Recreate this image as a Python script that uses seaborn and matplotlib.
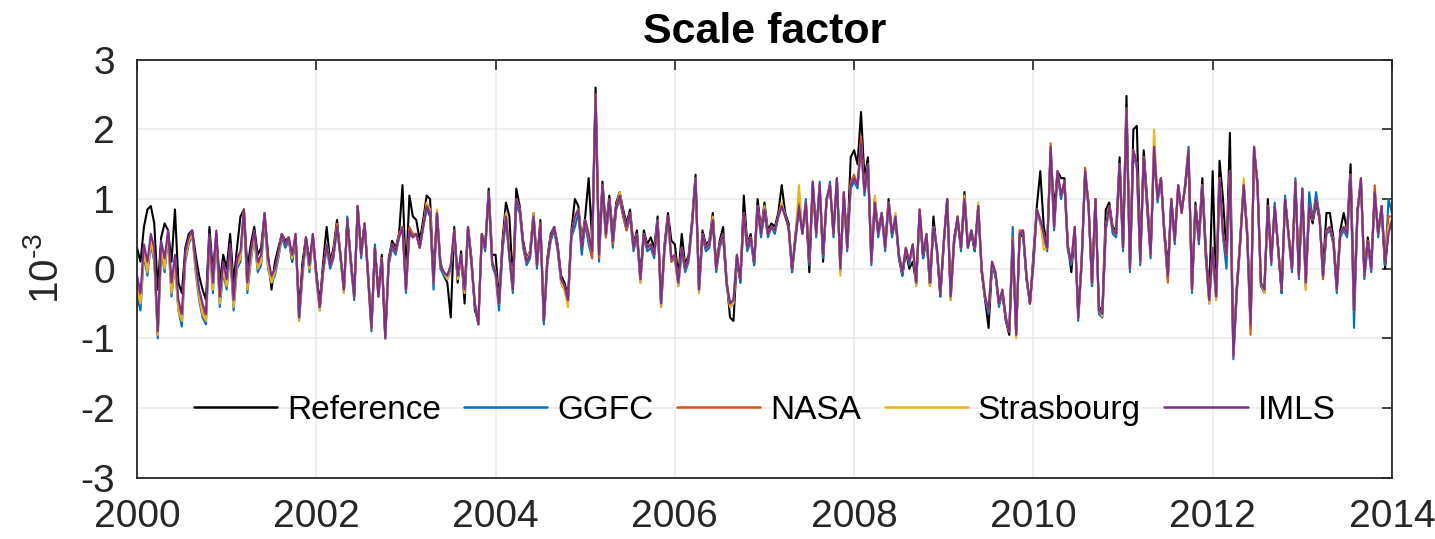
import numpy as np
import pandas as pd
import matplotlib
matplotlib.use("Agg")
import matplotlib.pyplot as plt
import seaborn as sns

# ---- data (units of 1e-3), biweekly samples 2000.0 .. 2014.0 ----
series_names = ["Reference", "GGFC", "NASA", "Strasbourg", "IMLS"]
series_colors = ["#000000", "#0072BD", "#D95319", "#EDB120", "#7E2F8E"]
x_ticks = [2000, 2002, 2004, 2006, 2008, 2010, 2012, 2014]
y_ticks = [-3, -2, -1, 0, 1, 2, 3]
start_year = 2000
samples_per_year = 26

reference = [
    0.3,0.1,0.6,0.85,0.9,0.65,-0.3,0.45,0.65,0.55,0.1,0.85,-0.2,-0.35,0.3,0.5,0.55,0.2,-0.1,-0.3,-0.45,0.6,-0.05,0.5,-0.2,0.2,
    0.0,0.5,-0.2,0.3,0.75,0.85,0.0,0.35,0.6,0.2,0.3,0.8,0.2,-0.3,0.1,0.3,0.5,0.4,0.45,0.1,0.45,-0.6,0.1,0.45,0.1,0.45,
    -0.05,-0.5,0.1,0.6,0.1,0.3,0.7,0.2,-0.3,0.72,0.15,-0.35,0.9,0.25,0.65,-0.05,-0.8,0.3,-0.35,0.2,-0.95,0.15,0.4,0.3,0.5,1.2,
    -0.1,1.05,0.75,0.7,0.4,0.7,1.05,1.0,-0.1,0.8,0.1,-0.1,-0.2,-0.7,0.6,-0.2,0.25,-0.5,0.6,0.15,-0.6,-0.75,0.5,0.35,1.15,0.2,
    0.2,-0.45,0.4,0.95,0.75,-0.2,1.15,0.9,0.4,0.15,0.25,0.8,0.1,0.7,-0.76,0.15,0.5,0.6,0.35,-0.1,-0.2,-0.4,0.55,1.0,0.9,0.4,
    0.75,1.3,0.4,2.6,0.3,1.25,0.6,1.05,0.5,0.95,1.1,0.85,0.65,0.85,0.35,0.55,-0.1,0.55,0.35,0.45,0.3,0.75,-0.45,0.35,0.8,0.4,
    0.35,-0.1,0.5,0.05,0.2,0.7,1.35,-0.25,0.55,0.35,0.4,0.8,0.05,0.4,0.6,-0.15,-0.7,-0.75,0.15,-0.2,1.05,0.35,0.5,0.05,1.0,0.55,
    0.95,0.55,0.65,0.6,0.8,1.2,0.8,0.65,-0.05,0.5,0.95,0.55,0.9,-0.05,1.2,0.55,1.15,0.1,1.0,1.15,0.55,1.25,0.05,1.05,0.35,1.6,
    1.7,1.5,2.25,1.3,1.6,0.15,1.0,0.55,0.8,0.35,1.0,0.5,0.7,0.15,-0.1,0.25,0.0,0.1,-0.2,0.8,0.15,0.45,-0.25,0.75,0.25,-0.4,
    0.35,1.0,-0.35,0.45,0.7,0.3,1.1,0.35,0.5,0.25,0.9,-0.05,-0.45,-0.85,0.05,-0.1,-0.45,-0.35,-0.75,-0.95,0.35,-0.9,0.45,0.5,-0.15,-0.5,
    0.2,0.9,1.4,0.6,0.35,1.7,0.85,1.4,1.3,1.3,0.35,-0.05,0.55,-0.65,0.15,1.35,0.95,-0.25,1.0,-0.55,-0.6,0.85,0.95,0.6,0.55,1.6,
    0.35,2.48,0.05,2.0,2.05,0.2,1.7,1.0,0.25,1.65,1.05,1.3,0.55,0.0,1.0,0.45,1.15,0.85,1.15,1.6,-0.25,0.95,0.45,1.3,0.3,-0.4,
    1.4,-0.35,1.55,1.0,0.2,1.95,-1.2,-0.25,0.45,1.2,0.55,-0.75,1.7,1.25,-0.25,-0.27,1.0,0.15,0.85,0.3,-0.35,1.0,0.5,0.05,1.2,-0.05,
    1.1,-0.15,0.85,0.65,0.95,0.7,0.0,0.8,0.8,0.45,-0.2,0.55,0.8,0.55,1.5,-0.45,0.85,1.25,-0.05,0.45,0.05,1.05,0.55,0.85,0.0,0.55,
    0.65]

ggfc = [
    -0.4,-0.6,0.2,-0.1,0.35,0.1,-1.0,0.25,-0.05,0.45,-0.4,0.05,-0.6,-0.83,0.1,0.35,0.5,-0.05,-0.45,-0.7,-0.8,0.4,-0.35,0.45,-0.55,-0.05,
    -0.3,0.25,-0.6,0.0,0.1,0.8,-0.35,0.1,0.45,-0.05,0.05,0.7,0.0,-0.2,-0.1,0.15,0.45,0.3,0.4,0.1,0.45,-0.75,-0.1,0.4,-0.05,0.45,
    -0.15,-0.6,-0.05,0.3,0.0,0.15,0.6,0.15,-0.35,0.75,0.05,-0.45,0.9,0.15,0.65,-0.15,-0.9,0.35,-0.4,0.1,-1.0,0.05,0.3,0.2,0.45,0.6,
    -0.35,0.5,0.45,0.5,0.3,0.6,0.85,0.75,-0.3,0.75,0.0,-0.1,-0.15,0.0,0.5,-0.15,0.15,-0.35,0.55,0.05,-0.55,-0.8,0.45,0.25,1.05,0.05,
    -0.1,-0.6,0.25,0.7,0.15,-0.35,0.9,0.8,0.3,0.05,0.15,0.7,0.0,0.6,-0.8,0.05,0.4,0.55,0.25,-0.2,-0.3,-0.5,0.45,0.6,0.8,0.2,
    0.65,0.35,0.15,2.45,0.1,1.1,0.45,0.95,0.3,0.85,1.0,0.75,0.55,0.75,0.25,0.45,-0.2,0.45,0.25,0.3,0.15,0.65,-0.55,0.25,0.7,0.1,
    0.15,-0.25,0.25,-0.05,0.1,0.6,1.3,-0.35,0.45,0.25,0.3,0.65,-0.05,0.3,0.45,-0.25,-0.55,-0.5,0.15,-0.2,0.75,0.25,0.4,0.05,0.85,0.45,
    0.8,0.45,0.6,0.5,0.75,0.9,0.8,0.55,-0.05,0.4,0.85,0.5,1.0,0.05,1.2,0.45,1.25,0.15,0.95,1.25,0.45,1.3,-0.05,1.05,0.25,1.15,
    1.25,1.15,1.75,1.05,1.45,0.05,0.9,0.45,0.75,0.25,0.9,0.45,0.7,0.15,-0.1,0.3,0.05,0.35,-0.25,0.85,0.15,0.45,-0.25,0.6,0.3,-0.4,
    0.35,1.0,-0.45,0.35,0.7,0.25,0.95,0.3,0.55,0.25,0.85,-0.05,-0.45,-0.65,0.05,-0.1,-0.55,-0.35,-0.75,-0.9,0.6,-0.95,0.5,0.5,-0.15,-0.5,
    0.05,0.85,0.65,0.45,0.25,1.7,0.55,1.35,1.0,1.2,0.25,0.05,0.55,-0.75,0.05,1.35,0.85,-0.25,1.0,-0.65,-0.7,0.55,0.85,0.5,0.45,1.45,
    0.25,2.25,-0.05,1.65,1.45,0.05,1.55,0.85,0.15,1.7,0.95,1.25,0.45,-0.15,0.95,0.35,1.2,0.8,1.2,1.75,-0.35,0.9,0.35,1.2,0.15,-0.5,
    0.25,-0.45,1.3,0.45,0.0,1.35,-1.3,-0.35,0.35,1.2,0.45,-0.85,1.75,1.15,-0.25,-0.35,0.9,0.05,0.95,0.25,-0.35,1.05,0.45,-0.05,1.3,-0.15,
    1.15,-0.25,1.1,0.7,1.1,0.75,-0.15,0.5,0.55,0.35,-0.35,0.45,0.55,0.45,1.3,-0.85,0.8,1.25,-0.15,0.35,-0.05,1.1,0.45,0.9,0.05,1.0,
    0.8]

nasa = [
    -0.25,-0.45,0.3,0.0,0.45,0.2,-0.95,0.35,0.05,0.5,-0.3,0.1,-0.55,-0.7,0.2,0.4,0.5,0.05,-0.35,-0.6,-0.7,0.45,-0.25,0.5,-0.45,0.05,
    -0.2,0.3,-0.5,0.1,0.2,0.85,-0.25,0.2,0.5,0.05,0.15,0.75,0.1,-0.15,0.0,0.2,0.5,0.35,0.45,0.15,0.5,-0.7,-0.05,0.45,0.0,0.5,
    -0.1,-0.55,0.0,0.35,0.05,0.25,0.65,0.2,-0.3,0.7,0.1,-0.4,0.85,0.2,0.65,-0.1,-0.85,0.3,-0.4,0.15,-1.0,0.1,0.35,0.25,0.5,0.6,
    -0.3,0.6,0.5,0.5,0.3,0.6,0.9,0.8,-0.2,0.8,0.05,-0.05,-0.1,0.05,0.55,-0.1,0.2,-0.3,0.6,0.1,-0.5,-0.8,0.5,0.3,1.1,0.1,
    -0.05,-0.5,0.3,0.8,0.2,-0.3,1.0,0.85,0.35,0.1,0.2,0.75,0.05,0.65,-0.75,0.1,0.45,0.6,0.3,-0.15,-0.25,-0.45,0.5,0.75,0.85,0.3,
    0.7,0.45,0.15,2.5,0.15,1.2,0.45,1.0,0.35,0.9,1.0,0.75,0.55,0.8,0.3,0.5,-0.15,0.5,0.3,0.35,0.2,0.7,-0.5,0.3,0.75,0.1,
    0.2,-0.2,0.3,0.0,0.15,0.65,1.3,-0.3,0.5,0.3,0.35,0.7,0.0,0.35,0.5,-0.2,-0.5,-0.45,0.2,-0.15,0.8,0.35,0.45,0.1,0.9,0.5,
    0.85,0.5,0.6,0.55,0.75,0.9,0.75,0.6,0.0,0.45,0.9,0.5,0.95,0.1,1.25,0.5,1.2,0.2,1.0,1.2,0.5,1.3,0.0,1.1,0.3,1.25,
    1.35,1.2,1.9,1.1,1.5,0.1,0.95,0.5,0.8,0.3,0.95,0.5,0.75,0.2,-0.05,0.3,0.1,0.35,-0.2,0.85,0.25,0.5,-0.2,0.6,0.3,-0.35,
    0.4,1.0,-0.4,0.4,0.75,0.3,1.0,0.3,0.55,0.3,0.9,0.0,-0.4,-0.6,0.1,-0.05,-0.5,-0.3,-0.7,-0.9,0.45,-0.95,0.55,0.55,-0.1,-0.5,
    0.1,0.85,0.7,0.5,0.3,1.8,0.6,1.4,1.05,1.25,0.3,0.1,0.6,-0.7,0.1,1.45,0.9,-0.2,1.0,-0.6,-0.65,0.6,0.9,0.55,0.5,1.5,
    0.3,2.3,0.0,1.7,1.5,0.1,1.6,0.9,0.2,1.75,1.0,1.3,0.5,-0.2,1.0,0.4,1.2,0.8,1.2,1.7,-0.3,0.9,0.4,1.2,0.2,-0.45,
    0.3,-0.4,1.3,0.5,0.2,1.4,-1.25,-0.3,0.4,1.2,0.5,-0.95,1.75,1.2,-0.2,-0.3,0.9,0.1,0.9,0.3,-0.3,1.0,0.5,0.0,1.25,-0.1,
    1.15,-0.3,0.9,0.7,1.0,0.75,-0.15,0.55,0.6,0.4,-0.3,0.5,0.6,0.5,1.35,-0.6,0.8,1.3,-0.1,0.4,0.0,1.2,0.5,0.9,0.1,0.75,
    0.75]

strasbourg = [
    -0.3,-0.5,0.25,-0.05,0.4,0.15,-0.95,0.3,0.0,0.5,-0.35,0.05,-0.6,-0.75,0.15,0.4,0.5,0.0,-0.4,-0.65,-0.75,0.45,-0.3,0.5,-0.5,0.0,
    -0.25,0.3,-0.55,0.05,0.15,0.85,-0.3,0.15,0.5,0.0,0.1,0.8,0.05,-0.2,-0.05,0.2,0.5,0.35,0.45,0.15,0.5,-0.75,-0.05,0.45,0.0,0.5,
    -0.15,-0.6,0.0,0.35,0.05,0.2,0.6,0.2,-0.35,0.7,0.1,-0.4,0.9,0.2,0.65,-0.1,-0.85,0.3,-0.4,0.15,-1.0,0.1,0.35,0.25,0.45,0.6,
    -0.3,0.55,0.45,0.5,0.3,0.6,0.95,0.85,-0.2,0.85,0.05,-0.05,-0.15,0.05,0.55,-0.15,0.2,-0.35,0.6,0.1,-0.5,-0.8,0.5,0.3,1.1,0.1,
    -0.05,-0.5,0.3,0.8,0.2,-0.3,1.0,0.85,0.35,0.1,0.25,0.8,0.05,0.65,-0.75,0.1,0.45,0.6,0.3,-0.2,-0.3,-0.55,0.5,0.75,0.85,0.35,
    0.7,0.5,0.25,2.5,0.2,1.2,0.5,1.0,0.4,0.9,1.1,0.8,0.6,0.8,0.3,0.5,-0.2,0.5,0.3,0.35,0.2,0.7,-0.55,0.3,0.75,0.15,
    0.2,-0.25,0.3,0.0,0.15,0.65,1.3,-0.35,0.5,0.3,0.35,0.75,0.0,0.35,0.5,-0.2,-0.55,-0.5,0.2,-0.15,0.8,0.3,0.45,0.1,0.9,0.5,
    0.9,0.5,0.6,0.55,0.75,0.95,0.75,0.6,0.0,0.45,1.2,0.5,0.95,0.1,1.25,0.5,1.2,0.2,1.0,1.2,0.5,1.3,-0.1,1.1,0.3,1.2,
    1.3,1.2,1.8,1.1,1.5,0.1,1.05,0.5,0.8,0.3,0.95,0.5,0.8,0.2,-0.05,0.3,0.1,0.35,-0.25,0.85,0.2,0.5,-0.25,0.6,0.3,-0.35,
    0.4,1.0,-0.45,0.4,0.75,0.3,1.05,0.3,0.55,0.3,0.95,0.0,-0.4,-0.6,0.1,-0.05,-0.5,-0.3,-0.7,-0.9,0.4,-1.0,0.5,0.55,-0.1,-0.5,
    0.1,0.85,0.7,0.27,0.3,1.75,0.6,1.4,1.05,1.25,0.3,0.1,0.6,-0.7,0.1,1.4,0.9,-0.2,1.0,-0.6,-0.68,0.6,0.9,0.55,0.5,1.5,
    0.3,2.3,0.0,1.7,1.5,0.1,1.6,0.9,0.2,2.0,1.0,1.3,0.5,-0.1,1.0,0.4,1.2,0.8,1.2,1.7,-0.3,0.9,0.4,1.2,0.2,-0.5,
    0.3,-0.45,1.3,0.5,0.2,1.4,-1.25,-0.3,0.4,1.3,0.5,-0.8,1.75,1.2,-0.2,-0.35,0.9,0.1,0.9,0.3,-0.3,1.0,0.5,0.0,1.25,-0.1,
    1.15,-0.3,0.9,0.7,1.0,0.75,-0.1,0.55,0.6,0.4,-0.3,0.5,0.6,0.5,1.35,-0.6,0.8,1.3,-0.1,0.4,0.0,1.1,0.5,0.9,0.1,0.6,
    0.7]

imls = [
    -0.1,-0.35,0.35,0.1,0.5,0.3,-0.9,0.4,0.15,0.55,-0.2,0.2,-0.45,-0.65,0.25,0.45,0.55,0.1,-0.3,-0.5,-0.65,0.5,-0.2,0.55,-0.4,0.1,
    -0.15,0.35,-0.45,0.15,0.25,0.85,-0.2,0.25,0.55,0.1,0.2,0.8,0.15,-0.1,0.0,0.25,0.5,0.35,0.45,0.2,0.5,-0.7,0.0,0.45,0.05,0.5,
    -0.1,-0.55,0.0,0.35,0.05,0.2,0.6,0.2,-0.3,0.7,0.1,-0.4,0.9,0.2,0.65,-0.1,-0.85,0.3,-0.4,0.15,-1.0,0.1,0.35,0.25,0.45,0.6,
    -0.3,0.55,0.45,0.5,0.3,0.6,0.9,0.8,-0.2,0.8,0.05,-0.05,-0.1,0.05,0.55,-0.1,0.2,-0.3,0.6,0.1,-0.5,-0.8,0.5,0.3,1.1,0.1,
    -0.05,-0.5,0.3,0.75,0.2,-0.3,1.0,0.85,0.35,0.1,0.2,0.75,0.05,0.65,-0.75,0.1,0.45,0.6,0.3,-0.15,-0.25,-0.45,0.5,0.75,0.85,0.3,
    0.7,0.5,0.25,2.5,0.2,1.2,0.5,1.0,0.4,0.9,1.05,0.8,0.6,0.8,0.3,0.5,-0.15,0.5,0.3,0.35,0.2,0.7,-0.5,0.3,0.75,0.15,
    0.2,-0.2,0.3,0.0,0.15,0.65,1.3,-0.3,0.5,0.3,0.35,0.7,0.0,0.35,0.5,-0.2,-0.5,-0.45,0.2,-0.15,0.8,0.3,0.45,0.1,0.9,0.5,
    0.85,0.5,0.6,0.55,0.75,0.9,0.75,0.6,0.0,0.45,0.9,0.5,0.95,0.1,1.25,0.5,1.2,0.2,1.0,1.2,0.5,1.3,0.0,1.1,0.3,1.2,
    1.3,1.2,1.8,1.1,1.5,0.1,0.95,0.5,0.8,0.3,0.95,0.5,0.75,0.2,-0.05,0.3,0.1,0.35,-0.2,0.85,0.2,0.5,-0.2,0.6,0.3,-0.35,
    0.4,1.0,-0.4,0.4,0.75,0.3,1.0,0.3,0.55,0.3,0.9,0.0,-0.4,-0.6,0.1,-0.05,-0.5,-0.3,-0.7,-0.9,0.4,-0.95,0.5,0.55,-0.1,-0.5,
    0.1,0.85,0.7,0.5,0.3,1.75,0.6,1.4,1.05,1.25,0.3,0.1,0.6,-0.7,0.1,1.4,0.9,-0.2,1.0,-0.6,-0.65,0.6,0.9,0.55,0.5,1.5,
    0.3,2.3,0.0,1.7,1.5,0.1,1.6,0.9,0.2,1.75,1.0,1.3,0.5,-0.1,1.0,0.4,1.2,0.8,1.2,1.7,-0.3,0.9,0.4,1.2,0.2,-0.45,
    0.3,-0.4,1.3,0.5,0.2,1.4,-1.25,-0.3,0.4,1.2,0.5,-0.8,1.75,1.2,-0.2,-0.3,0.9,0.1,0.9,0.3,-0.3,1.0,0.5,0.0,1.25,-0.1,
    1.15,-0.2,0.9,0.7,1.0,0.75,-0.1,0.55,0.6,0.4,-0.3,0.5,0.6,0.5,1.35,-0.6,0.8,1.3,-0.1,0.4,0.0,1.1,0.5,0.9,0.1,0.5,
    0.7]

# ---- build long table ----
all_series = [reference, ggfc, nasa, strasbourg, imls]
n = len(imls)
years = start_year + np.arange(n) / samples_per_year
frames = []
for name, vals in zip(series_names, all_series):
    frames.append(pd.DataFrame({"year": years, "value": vals, "series": name}))
df = pd.concat(frames, ignore_index=True)

# ---- style ----
sns.set_theme(style="white")
plt.rcParams["font.family"] = ["Liberation Sans", "DejaVu Sans"]
plt.rcParams["mathtext.fontset"] = "custom"
plt.rcParams["mathtext.rm"] = "Liberation Sans"
plt.rcParams["mathtext.it"] = "Liberation Sans:italic"
axis_color = "#262626"

fig = plt.figure(figsize=(14.35, 5.39), dpi=100)
ax = fig.add_axes([0.0955, 0.1137, 0.9700 - 0.0955, 0.8892 - 0.1137])

sns.lineplot(data=df, x="year", y="value", hue="series", hue_order=series_names,
             palette=series_colors, linewidth=1.5, ax=ax, legend=True, sort=False,
             estimator=None)

ax.set_xlim(2000, 2014)
ax.set_ylim(-3, 3)
ax.set_xticks(x_ticks)
ax.set_yticks(y_ticks)
ax.set_xticklabels([str(t) for t in x_ticks])
ax.set_yticklabels([str(t) for t in y_ticks])
ax.grid(True, color="#EBEBEB", linewidth=1.2)
ax.set_axisbelow(True)
for s in ax.spines.values():
    s.set_visible(True)
    s.set_color(axis_color)
    s.set_linewidth(1.3)
ax.tick_params(axis="both", which="both", direction="in", length=7, width=1.2,
               color=axis_color, labelcolor=axis_color, labelsize=28,
               top=True, right=True)
ax.tick_params(axis="x", pad=15)
ax.tick_params(axis="y", pad=16)

ax.set_xlabel("")
ax.set_ylabel(r"$\mathregular{10^{\text{-}3}}$", fontsize=29, color=axis_color, labelpad=10)
ax.set_title("Scale factor", fontsize=31, fontweight="bold", color="#000000", pad=12)

handles, labels = ax.get_legend_handles_labels()
leg = ax.legend(handles, labels, loc="center", bbox_to_anchor=(0.5, 0.162), ncol=5,
                frameon=False, fontsize=24, handlelength=2.5, handletextpad=0.3,
                columnspacing=0.7, borderpad=0.2)
for t in leg.get_texts():
    t.set_color("#000000")
for h in leg.legend_handles:
    h.set_linewidth(1.8)

fig.savefig("out.png", dpi=100)
